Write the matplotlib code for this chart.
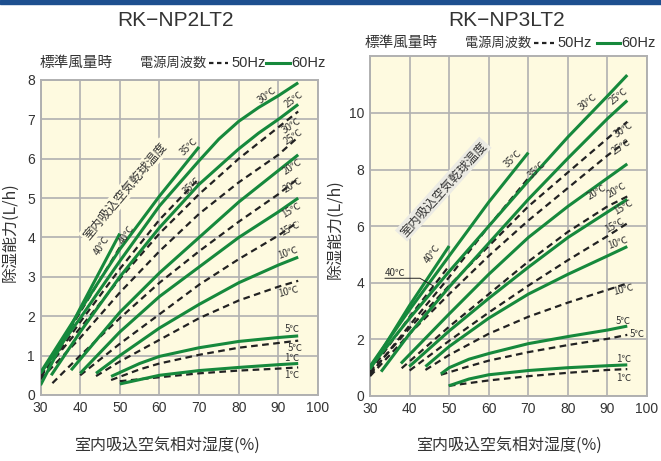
#!/usr/bin/env python3
"""Dehumidifying capacity charts for RK-NP2LT2 / RK-NP3LT2 (50Hz vs 60Hz)."""

import matplotlib
matplotlib.use('Agg')
import matplotlib.pyplot as plt
from matplotlib.lines import Line2D

plt.rcParams['font.family'] = ['Noto Sans CJK JP', 'DejaVu Sans']
NUM_FONT = ['Liberation Sans', 'Noto Sans CJK JP', 'DejaVu Sans']

# ---- data (x: relative humidity %, y: L/h) ----
# RK-NP2LT2, 60Hz (green)
np2_60 = {
    40: ([30, 40, 50], [0.25, 2.2, 4.1]),
    35: ([30, 40, 50, 60, 70], [0.57, 2.15, 3.7, 5.05, 6.3]),
    30: ([30, 40, 50, 60, 70, 75, 80, 85, 90, 95],
         [0.55, 1.95, 3.4, 4.8, 5.95, 6.5, 6.95, 7.3, 7.6, 7.93]),
    25: ([32.7, 40, 50, 60, 70, 80, 85, 90, 95],
         [0.5, 1.6, 3.0, 4.25, 5.35, 6.25, 6.65, 7.0, 7.38]),
    20: ([37.7, 50, 60, 70, 80, 90, 95], [0.63, 2.1, 3.1, 4.0, 4.9, 5.7, 6.1]),
    15: ([40, 50, 60, 70, 80, 90, 95], [0.55, 1.6, 2.5, 3.25, 4.0, 4.65, 5.0]),
    10: ([44, 50, 60, 70, 80, 90, 95], [0.55, 1.0, 1.7, 2.3, 2.85, 3.3, 3.5]),
    5: ([47.8, 55, 60, 70, 80, 90, 95], [0.47, 0.8, 0.98, 1.2, 1.36, 1.46, 1.5]),
    1: ([50, 60, 70, 80, 90, 95], [0.28, 0.5, 0.62, 0.7, 0.77, 0.8]),
}
# RK-NP2LT2, 50Hz (dashed)
np2_50 = {
    40: ([30, 40, 50], [0.48, 2.1, 3.75]),
    35: ([30, 40, 50, 60, 70], [0.45, 1.85, 3.2, 4.45, 5.5]),
    30: ([30, 40, 50, 60, 70, 80, 90, 95], [0.5, 1.7, 2.95, 4.1, 5.1, 6.0, 6.8, 7.2]),
    25: ([30, 40, 50, 60, 70, 80, 90, 95], [0.4, 1.45, 2.6, 3.65, 4.6, 5.4, 6.1, 6.55]),
    20: ([33, 40, 50, 60, 70, 80, 90, 95], [0.3, 1.0, 1.95, 2.85, 3.65, 4.4, 5.1, 5.5]),
    15: ([40, 50, 60, 70, 80, 90, 95], [0.5, 1.3, 2.05, 2.8, 3.45, 4.05, 4.4]),
    10: ([44, 50, 60, 70, 80, 90, 95], [0.48, 0.85, 1.4, 1.95, 2.4, 2.75, 2.9]),
    5: ([47.8, 55, 60, 70, 80, 90, 95], [0.38, 0.65, 0.8, 1.02, 1.2, 1.32, 1.38]),
    1: ([50, 60, 70, 80, 90, 95], [0.35, 0.45, 0.55, 0.62, 0.67, 0.7]),
}
# RK-NP3LT2, 60Hz (green)
np3_60 = {
    40: ([30, 40, 50], [0.95, 3.2, 5.3]),
    35: ([30, 40, 50, 60, 70], [1.05, 3.05, 4.95, 6.85, 8.6]),
    30: ([30, 40, 50, 60, 70, 80, 90, 95], [1.0, 2.75, 4.4, 6.0, 7.6, 9.15, 10.6, 11.34]),
    25: ([32.8, 40, 50, 60, 70, 80, 90, 95], [0.86, 2.2, 3.85, 5.4, 6.95, 8.4, 9.8, 10.44]),
    20: ([37.8, 50, 60, 70, 80, 90, 95], [1.15, 2.9, 4.3, 5.6, 6.7, 7.7, 8.2]),
    15: ([39.9, 50, 60, 70, 80, 90, 95], [1.04, 2.3, 3.45, 4.55, 5.6, 6.5, 6.95]),
    10: ([44, 50, 60, 70, 80, 90, 95], [1.04, 1.75, 2.75, 3.6, 4.3, 4.95, 5.28]),
    5: ([47.9, 50, 55, 60, 70, 80, 90, 95], [0.78, 1.0, 1.3, 1.5, 1.85, 2.1, 2.33, 2.47]),
    1: ([49.9, 55, 60, 70, 80, 90, 95], [0.36, 0.6, 0.75, 0.9, 1.0, 1.07, 1.1]),
}
# RK-NP3LT2, 50Hz (dashed)
np3_50 = {
    40: ([30, 40, 50], [0.85, 2.8, 4.6]),
    35: ([30, 40, 50, 60, 70], [0.75, 2.5, 4.2, 6.0, 7.7]),
    30: ([30, 40, 50, 60, 70, 80, 90, 95], [0.8, 2.4, 3.9, 5.3, 6.7, 7.9, 9.1, 9.69]),
    25: ([30, 40, 50, 60, 70, 80, 90, 95], [0.7, 2.2, 3.6, 4.95, 6.2, 7.35, 8.5, 9.02]),
    20: ([38, 50, 60, 70, 80, 90, 95], [0.98, 2.45, 3.6, 4.75, 5.8, 6.7, 7.05]),
    15: ([40, 50, 60, 70, 80, 90, 95], [0.9, 1.95, 2.95, 3.9, 4.8, 5.65, 6.1]),
    10: ([44, 50, 60, 70, 80, 90, 95], [0.92, 1.45, 2.2, 2.8, 3.3, 3.75, 3.98]),
    5: ([47.9, 55, 60, 70, 80, 90, 95], [0.75, 1.05, 1.25, 1.55, 1.8, 2.02, 2.16]),
    1: ([49.9, 60, 70, 80, 90, 95], [0.36, 0.55, 0.7, 0.82, 0.92, 0.95]),
}

x_ticks = [30, 40, 50, 60, 70, 80, 90, 100]
np2_y_ticks = [0, 1, 2, 3, 4, 5, 6, 7, 8]
np3_y_ticks = [0, 2, 4, 6, 8, 10]

# temperature label placement: (x, y, rotation)
np2_labels_60 = {40: (45.4, 3.8, 58), 35: (67.3, 6.3, 45), 30: (87.1, 7.6, 38),
                 25: (93.8, 7.5, 38), 20: (93.6, 5.8, 35), 15: (93.3, 4.7, 32),
                 10: (92.5, 3.62, 20), 5: (93.4, 1.68, 0), 1: (93.4, 0.95, 0)}
np2_labels_50 = {40: (51.7, 4.08, 58), 35: (68.1, 5.33, 45), 30: (93.4, 6.85, 35),
                 25: (93.8, 6.56, 35), 20: (93.6, 5.33, 32), 15: (93.0, 4.23, 28),
                 10: (92.5, 2.62, 15), 5: (94.2, 1.2, 0), 1: (93.4, 0.51, 0)}
np3_labels_60 = {40: (45.6, 5.04, 55), 35: (66.2, 8.4, 45), 30: (84.9, 10.4, 40),
                 25: (92.7, 10.58, 40), 20: (87.3, 7.22, 32), 15: (94.0, 6.69, 32),
                 10: (92.7, 5.42, 20), 5: (94.0, 2.66, 0), 1: (94.0, 1.3, 0)}
np3_labels_50 = {35: (72.1, 7.99, 45), 30: (94.0, 9.4, 35), 25: (93.6, 8.81, 35),
                 20: (92.3, 7.28, 32), 15: (91.9, 6.04, 30), 10: (94.0, 3.75, 15),
                 5: (97.4, 2.19, 0), 1: (94.0, 0.63, 0)}

GREEN = '#16893c'
BG = '#fefae0'
GRID = '#b0b0b0'
TXT = '#333333'


def draw_panel(ax, data60, data50, lab60, lab50, ymax, yticks, ylab_xy, xlab_xy):
    ax.set_facecolor(BG)
    for t, (xs, ys) in data50.items():
        ax.plot(xs, ys, color='#222222', lw=1.6, ls=(0, (3, 2)), zorder=3)
    for t, (xs, ys) in data60.items():
        ax.plot(xs, ys, color=GREEN, lw=2.2, zorder=4, solid_capstyle='butt',
                solid_joinstyle='round')
    for lab in (lab60, lab50):
        for t, (x, y, r) in lab.items():
            ax.text(x, y, f'{t}℃', fontsize=7, rotation=r, color=TXT,
                    ha='center', va='center', zorder=6)
    ax.set_xlim(30, 100)
    ax.set_ylim(0, ymax)
    ax.set_xticks(x_ticks)
    ax.set_yticks(yticks)
    for lbl in ax.get_xticklabels() + ax.get_yticklabels():
        lbl.set_family(NUM_FONT)
    ax.grid(True, color=GRID, lw=1.2, zorder=0)
    ax.set_axisbelow(True)
    ax.tick_params(length=0, labelsize=10, labelcolor=TXT, pad=4)
    for s in ax.spines.values():
        s.set_color(GRID)
        s.set_linewidth(1.4)
    ax.set_xlabel('室内吸込空気相対湿度(%)', fontsize=11.5, color=TXT)
    ax.set_ylabel('除湿能力(L/h)', fontsize=11.5, color=TXT)
    ax.xaxis.set_label_coords(*xlab_xy)
    ax.yaxis.set_label_coords(*ylab_xy)


def legend(fig, y, name_px, text_px, dash_px, hz50_px, green_px, hz60_px):
    W = 661.0
    fig.text(name_px / W, y, '標準風量時', fontsize=10.5, color=TXT, va='center')
    fig.text(text_px / W, y, '電源周波数', fontsize=9.5, color=TXT, va='center')
    fig.add_artist(Line2D([dash_px[0] / W, dash_px[1] / W], [y, y], color='#222222',
                          lw=1.6, ls=(0, (2, 1.6)), transform=fig.transFigure))
    fig.text(hz50_px / W, y, '50Hz', fontsize=10.5, color=TXT, va='center',
             family=NUM_FONT)
    fig.add_artist(Line2D([green_px[0] / W, green_px[1] / W], [y, y], color=GREEN,
                          lw=2.2, transform=fig.transFigure))
    fig.text(hz60_px / W, y, '60Hz', fontsize=10.5, color=TXT, va='center',
             family=NUM_FONT)


def main():
    fig = plt.figure(figsize=(6.61, 4.61), dpi=100)
    fig.patch.set_facecolor('white')

    # top blue rule
    fig.add_artist(plt.Rectangle((0, 0.992), 1, 0.008, color='#1d4f8f',
                                 transform=fig.transFigure))

    ax1 = fig.add_axes([0.0613, 0.1432, 0.4198, 0.6833])
    draw_panel(ax1, np2_60, np2_50, np2_labels_60, np2_labels_50, 8, np2_y_ticks,
               (-0.081, 0.517), (0.456, -0.133))
    ax1.text(51.3, 5.18, '室内吸込空気乾球温度', rotation=50, fontsize=8.8, color=TXT,
             ha='center', va='center', zorder=5,
             bbox=dict(boxstyle='square,pad=0.15', fc=BG, ec='none'))

    ax2 = fig.add_axes([0.5598, 0.141, 0.4191, 0.7367])
    draw_panel(ax2, np3_60, np3_50, np3_labels_60, np3_labels_50, 12, np3_y_ticks,
               (-0.097, 0.49), (0.502, -0.121))
    ax2.text(48.5, 7.31, '室内吸込空気乾球温度', rotation=48, fontsize=8.8, color=TXT,
             ha='center', va='center', zorder=5,
             bbox=dict(boxstyle='square,pad=0.15', fc='#ecebe4', ec='none'))
    # 40C (50Hz) label with leader line
    ax2.text(36.3, 4.36, '40℃', fontsize=7, color=TXT, ha='center', va='center', zorder=6)
    ax2.plot([33.8, 42.6, 46.0], [4.16, 4.16, 3.89], color='#222222', lw=0.7, zorder=6)

    fig.text(0.266, 0.955, 'RK−NP2LT2', fontsize=15, color=TXT, ha='center',
             va='center', family=NUM_FONT)
    fig.text(0.766, 0.955, 'RK−NP3LT2', fontsize=15, color=TXT, ha='center',
             va='center', family=NUM_FONT)

    legend(fig, 0.863, 40, 140, (209, 228), 231, (266, 290), 291)
    legend(fig, 0.907, 365, 465, (534, 554), 557, (597, 620), 621)

    fig.savefig('out.png', dpi=100, facecolor='white')
    plt.close(fig)


if __name__ == '__main__':
    main()
